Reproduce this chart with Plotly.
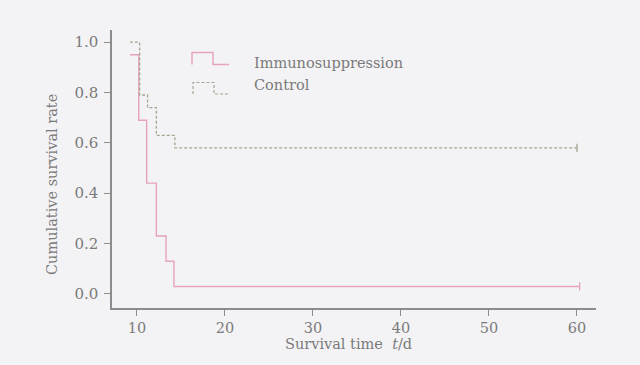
import plotly.graph_objects as go

# ---- data ----
immuno_t = [9.2, 10.2, 11.1, 12.2, 13.3, 14.2, 60.3]
immuno_s = [0.95, 0.69, 0.44, 0.23, 0.13, 0.03, 0.03]
control_t = [9.2, 10.3, 11.2, 12.2, 14.3, 60.0]
control_s = [1.0, 0.79, 0.74, 0.63, 0.58, 0.58]
series_names = ["Immunosuppression", "Control"]
x_ticks = [10, 20, 30, 40, 50, 60]
y_ticks = [0.0, 0.2, 0.4, 0.6, 0.8, 1.0]
y_tick_labels = ["0.0", "0.2", "0.4", "0.6", "0.8", "1.0"]

PINK = "#e6a3bb"
CTRL = "#a3a893"
AXIS = "#8c8c8c"
TEXT = "#7a7a7a"
BG = "#f3f3f5"
FONT = "DejaVu Serif"

W, H = 640, 365
L, R, T, B = 112, 596, 30, 308  # plot area in pixels


def px(x):
    return (x - L) / (R - L)


def py(y):
    return (B - y) / (B - T)


fig = go.Figure()
fig.add_trace(go.Scatter(x=immuno_t, y=immuno_s, mode="lines", line_shape="hv",
                         line=dict(color=PINK, width=1.4), name=series_names[0],
                         showlegend=False, hoverinfo="skip"))
fig.add_trace(go.Scatter(x=control_t, y=control_s, mode="lines", line_shape="hv",
                         line=dict(color=CTRL, width=1.3, dash="3px,2px"),
                         name=series_names[1], showlegend=False, hoverinfo="skip"))
# censor marks at the ends
fig.add_trace(go.Scatter(x=immuno_t[-1:], y=immuno_s[-1:], mode="markers",
                         marker=dict(symbol="line-ns", size=6,
                                     line=dict(color=PINK, width=1.3)),
                         showlegend=False, hoverinfo="skip"))
fig.add_trace(go.Scatter(x=control_t[-1:], y=control_s[-1:], mode="markers",
                         marker=dict(symbol="line-ns", size=6,
                                     line=dict(color=CTRL, width=1.3)),
                         showlegend=False, hoverinfo="skip"))

# legend symbols (step glyphs) and text
def step_path(x0, x1, x2, ylow, yhigh):
    return (f"M {px(x0)} {py(ylow)} L {px(x0)} {py(yhigh)} L {px(x1)} {py(yhigh)} "
            f"L {px(x1)} {py(ylow)} L {px(x2)} {py(ylow)}")

shapes = [
    dict(type="path", xref="paper", yref="paper",
         path=step_path(192, 213, 229, 64.5, 52.5),
         line=dict(color=PINK, width=1.4)),
    dict(type="path", xref="paper", yref="paper",
         path=step_path(193, 214, 229, 94, 82.5),
         line=dict(color=CTRL, width=1.2, dash="3px,2px")),
]

annotations = [
    dict(text=series_names[0], xref="paper", yref="paper", x=px(252), y=py(62.5),
         xanchor="left", yanchor="middle", showarrow=False,
         font=dict(family=FONT, size=14.5, color=TEXT)),
    dict(text=series_names[1], xref="paper", yref="paper", x=px(252), y=py(85),
         xanchor="left", yanchor="middle", showarrow=False,
         font=dict(family=FONT, size=14.5, color=TEXT)),
    dict(text="Survival time  <i>t</i>/d", xref="paper", yref="paper",
         x=px(348), y=py(344), xanchor="center", yanchor="middle", showarrow=False,
         font=dict(family=FONT, size=14.5, color=TEXT)),
    dict(text="Cumulative survival rate", xref="paper", yref="paper",
         x=px(52), y=py(185), xanchor="center", yanchor="middle", showarrow=False,
         textangle=-90, font=dict(family=FONT, size=14.5, color=TEXT)),
]

fig.update_layout(
    width=W, height=H,
    margin=dict(l=L, r=W - R, t=T, b=H - B, pad=0),
    paper_bgcolor=BG, plot_bgcolor=BG,
    showlegend=False,
    shapes=shapes, annotations=annotations,
    font=dict(family=FONT, color=TEXT, size=15),
)
fig.update_xaxes(
    range=[7.16, 62.16], tickvals=x_ticks, ticks="outside", ticklen=6,
    tickcolor=AXIS, tickwidth=1, showline=True, linecolor=AXIS, linewidth=1.5,
    showgrid=False, zeroline=False, tickfont=dict(family=FONT, size=14.5, color=TEXT),
)
fig.update_yaxes(
    range=[-0.0556, 1.048], tickvals=y_ticks, ticktext=y_tick_labels,
    ticks="outside", ticklen=6, tickcolor=AXIS, tickwidth=1,
    showline=True, linecolor=AXIS, linewidth=1.5, showgrid=False, zeroline=False,
    tickfont=dict(family=FONT, size=15, color=TEXT), ticklabelstandoff=3,
)

fig.write_html("out.html",
               config={"displayModeBar": False},
               post_script="document.body.style.margin='0';"
                           "document.documentElement.style.background='%s';" % BG)
